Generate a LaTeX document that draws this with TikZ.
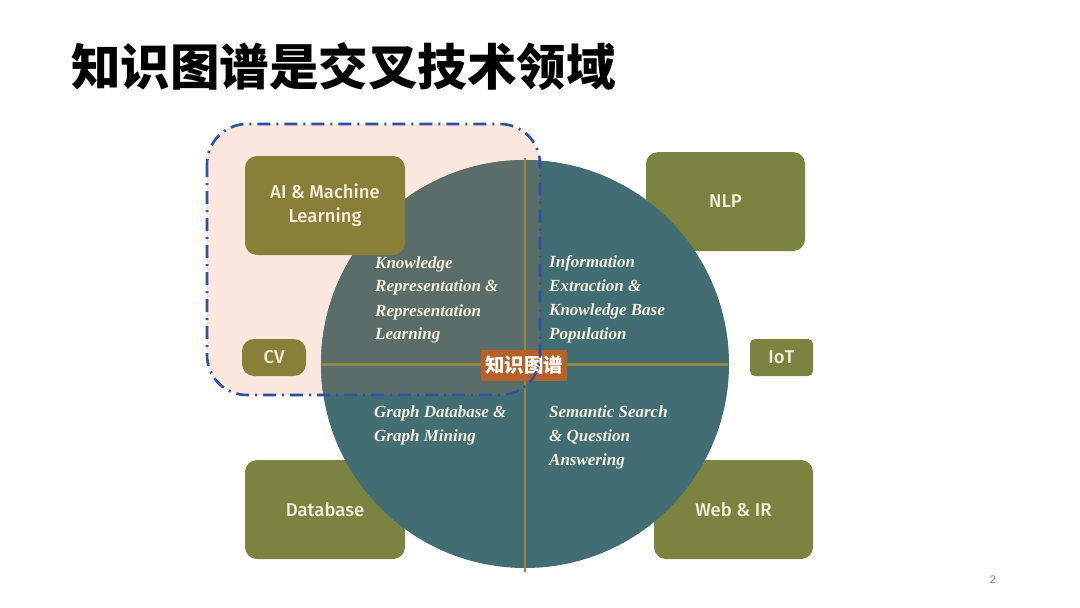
\documentclass[tikz,border=0pt]{standalone}
\usepackage{fontspec}
\setmainfont{Liberation Serif}
\newfontfamily\boxfont{Fira Sans}[UprightFont=* Medium]
\newfontfamily\cjk{Noto Sans CJK SC}
\newfontfamily\numfont{Liberation Sans}
\definecolor{peach}{HTML}{FBE7DD}
\definecolor{teal}{HTML}{426E73}
\definecolor{grayteal}{HTML}{5B6D69}
\definecolor{olivebox}{HTML}{7B8340}
\definecolor{brownbox}{HTML}{8A7F38}
\definecolor{crossline}{HTML}{968840}
\definecolor{dashblue}{HTML}{2D52A0}
\definecolor{labelorange}{HTML}{B8602A}
\definecolor{cream}{HTML}{F4EDDD}
\tikzset{
  fieldbox/.style={rounded corners=12pt, fill=olivebox, draw=none, text=cream,
    font=\boxfont\fontsize{18.5}{24}\selectfont, align=center, inner sep=0pt},
  areatext/.style={anchor=north west, align=left, inner sep=0pt, text=cream,
    font=\bfseries\itshape\fontsize{17}{24}\selectfont},
}
\begin{document}
\begin{tikzpicture}[x=1pt,y=-1pt]
\useasboundingbox (0,0) rectangle (1080,608);
\fill[white] (0,0) rectangle (1080,608);
% title
\node[anchor=west, inner sep=0pt, font=\cjk\bfseries\fontsize{49.5}{58}\selectfont] (title) at (71,67) {知识图谱是交叉技术领域};
% peach area
\fill[peach, rounded corners=40pt] (207,124) rectangle (540,395);
% boxes beneath circle
\node[fieldbox, minimum width=160pt, minimum height=99pt] (db) at (325,509.5) {Database};
\node[fieldbox, minimum width=159pt, minimum height=99pt] (web) at (733.5,509.5) {Web \& IR};
\node[fieldbox, minimum width=159pt, minimum height=99pt] (nlp) at (725.5,201.5) {NLP};
% circle
\fill[teal] (525,364) circle (204pt);
\begin{scope}
  \clip[rounded corners=40pt] (207,124) rectangle (540,395);
  \fill[grayteal] (525,364) circle (204pt);
\end{scope}
% cross
\draw[crossline, line width=2.6pt] (525,158) -- (525,572);
\draw[crossline, line width=3pt] (322,364) -- (728,364);
% boxes above circle
\node[fieldbox, fill=brownbox, minimum width=160pt, minimum height=99pt] (ai) at (325,205.5) {AI \& Machine\\Learning};
\node[fieldbox, fill=brownbox, minimum width=64pt, minimum height=37pt] (cv) at (274,357.5) {CV};
\node[fieldbox, rounded corners=5pt, minimum width=63pt, minimum height=37pt] (iot) at (781.5,357.5) {IoT};
% quadrant texts
\node[areatext] (kr) at (375,256) {Knowledge\\Representation \&\\Representation\\Learning};
\node[areatext] (ie) at (549,255) {Information\\Extraction \&\\Knowledge Base\\Population};
\node[areatext] (gd) at (374,405) {Graph Database \&\\Graph Mining};
\node[areatext] (ss) at (549,405) {Semantic Search\\\& Question\\Answering};
% center label
\node[fill=labelorange, text=white, inner sep=0pt, minimum width=86pt, minimum height=31pt,
  font=\cjk\bfseries\fontsize{19.5}{22}\selectfont] (kg) at (524,365.5) {知识图谱};
% dashed border
\draw[dashblue, line width=2.6pt, rounded corners=40pt,
  dash pattern=on 13pt off 6pt on 2pt off 6pt] (207,124) rectangle (540,395);
% page number
\node[text=gray, font=\numfont\fontsize{11}{13}\selectfont, inner sep=0pt] (pg) at (993,580) {2};
\end{tikzpicture}
\end{document}
